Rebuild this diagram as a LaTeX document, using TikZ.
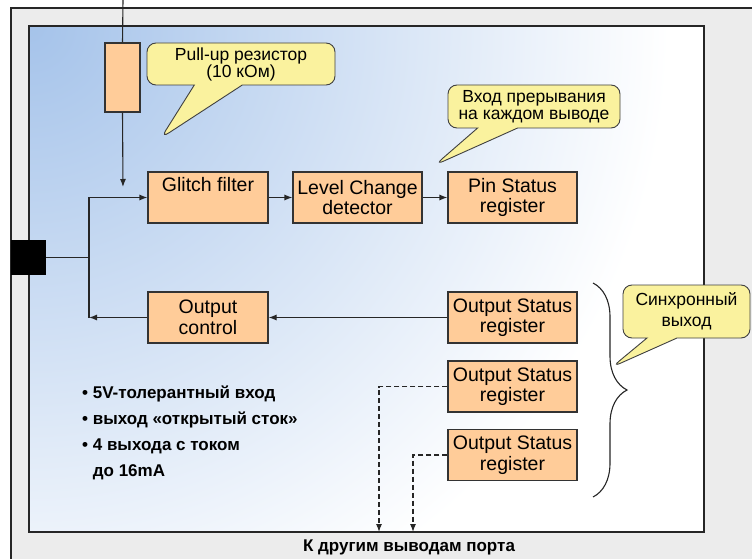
\documentclass[tikz,border=0pt]{standalone}
\usepackage{fontspec}
\setmainfont{Liberation Sans}
\usetikzlibrary{arrows.meta, shapes.callouts, decorations.pathreplacing, positioning}

\begin{document}
\begin{tikzpicture}[x=1pt, y=-1pt,
    block/.style={draw=black!80, fill=peach, line width=1.1pt, minimum height=51pt,
      inner sep=0pt, align=center, font=\fontsize{19.5}{20.5}\selectfont},
    note/.style={rectangle callout, draw=black!75, fill=notefill, line width=0.9pt,
      rounded corners=9pt, inner sep=0pt, align=center, font=\fontsize{17.5}{17}\selectfont},
    wire/.style={line width=1.1pt, black!85},
    link/.style={wire, -{Latex[length=8pt, width=6pt]}},
  ]
    % Colors
    \definecolor{peach}{RGB}{255, 204, 153}
    \definecolor{notefill}{RGB}{250, 242, 158}
    \definecolor{inblue}{RGB}{165, 195, 234}
    \definecolor{framegrey}{RGB}{236, 236, 236}

    \useasboundingbox (0,0) rectangle (752,559);

    % Outer frame
    \fill[framegrey] (11,8) rectangle (752,559);
    \draw[line width=1.2pt, black!85] (752,8) -- (11,8) -- (11,559);

    % Inner area with shading
    \begin{scope}
      \clip (29,26) rectangle (704,532);
      \fill[white] (29,26) rectangle (704,532);
      \shade[inner color=inblue, outer color=white] (29,26) circle (640);
    \end{scope}
    \draw[line width=1.2pt, black!85] (29,26) rectangle (704,532);

    % Free ends
    \coordinate (vdd) at (123,0);
    \coordinate (gin) at (123,187);
    \coordinate (jn) at (89,257.5);
    \coordinate (port1) at (379,532);
    \coordinate (port2) at (413,532);
    \coordinate (putip) at (161,138);
    \coordinate (irqtip) at (435,165);
    \coordinate (synctip) at (612,367);

    % Pin and resistor
    \node[fill=black, minimum size=35pt, inner sep=0pt] (pin) at (28.5,257.5) {};
    \node[draw=black!80, fill=peach, line width=1.1pt, minimum width=35pt, minimum height=69pt,
      inner sep=0pt] (res) at (122.5,77.5) {};

    % Blocks
    \node[block, minimum width=120pt] (glitch) at (208,197.5) {Glitch filter\\\strut};
    \node[block, minimum width=129pt] (level) at (357.5,197.5) {Level Change\\detector};
    \node[block, minimum width=129pt] (pinstat) at (512.5,197.5) {Pin Status\\register};
    \node[block, minimum width=120pt] (outctrl) at (208,317.5) {Output\\control};
    \node[block, minimum width=129pt] (outstat1) at (512.5,317.5) {Output Status\\register};
    \node[block, minimum width=129pt] (outstat2) at (512.5,386.5) {Output Status\\register};
    \node[block, minimum width=129pt] (outstat3) at (512.5,455) {Output Status\\register};

    % Connections
    \draw[wire] (vdd) -- (res.north);
    \draw[link] (res.south) -- (gin);
    \draw[wire] (pin.east) -- (jn);
    \draw[link] (jn) |- (glitch.west);
    \draw[wire] (jn) -- (jn |- outctrl.west);
    \draw[link] (outctrl.west) -- (jn |- outctrl.west);
    \draw[link] (glitch) -- (level);
    \draw[link] (level) -- (pinstat);
    \draw[link] (outstat1) -- (outctrl);
    \draw[link, dash pattern=on 5pt off 3pt] (outstat2.west) -| (port1);
    \draw[link, dash pattern=on 5pt off 3pt] (outstat3.west) -| (port2);

    % Brace over the output registers
    \draw[wire, decorate, decoration={brace, amplitude=34pt}] (593,283) -- (593,497);

    % Callouts
    \node[note, minimum width=188pt, minimum height=42pt, callout absolute pointer={(putip)},
      callout pointer width=48pt] (pullnote) at (241,64) {Pull-up резистор\\(10 кОм)};
    \node[note, minimum width=172pt, minimum height=43pt, callout absolute pointer={(irqtip)},
      callout pointer width=40pt] (irqnote) at (534,106.5) {Вход прерывания\\на каждом выводе};
    \node[note, minimum width=127pt, minimum height=53pt, callout absolute pointer={(synctip)},
      callout pointer width=30pt, font=\fontsize{17.5}{21}\selectfont] (syncnote) at (686.5,311.5)
      {Синхронный\\выход};

    % Features
    \node[anchor=north west, align=left, inner sep=0pt,
      font=\bfseries\fontsize{17}{26}\selectfont] (feat) at (82,386)
      {• 5V-толерантный вход\\• выход «открытый сток»\\• 4 выхода с током\\\hphantom{• }до 16mA};

    % Caption under the frame
    \node[font=\bfseries\fontsize{17}{18}\selectfont] (port) at (409,547) {К другим выводам порта};
\end{tikzpicture}
\end{document}
